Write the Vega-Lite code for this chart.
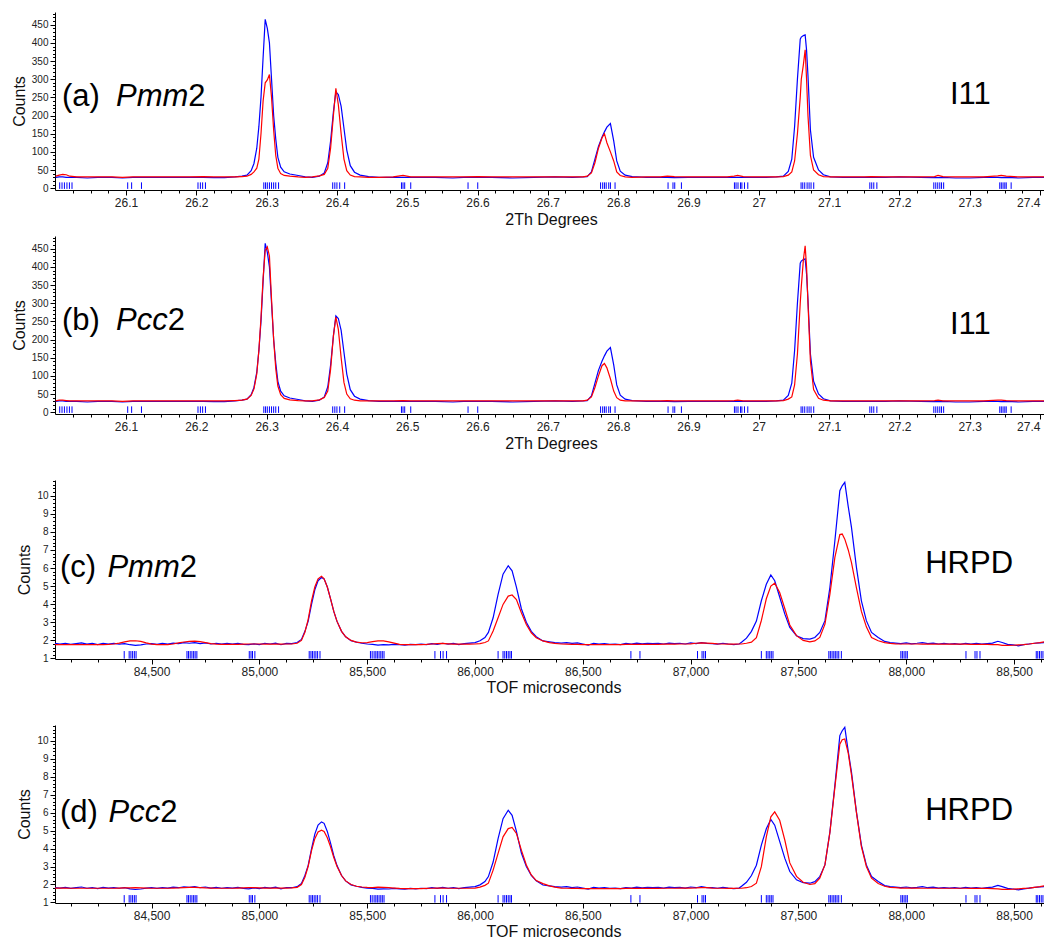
{
  "$schema": "https://vega.github.io/schema/vega-lite/v6.json",
  "background": "white",
  "padding": {"left": 11, "top": 12, "right": 0, "bottom": 0},
  "datasets": {
    "i11": [
      {"x": 26.000, "obs": 30, "pmm": 33, "pcc": 31},
      {"x": 26.005, "obs": 31, "pmm": 36, "pcc": 33},
      {"x": 26.010, "obs": 31, "pmm": 38, "pcc": 33},
      {"x": 26.015, "obs": 30, "pmm": 37, "pcc": 32},
      {"x": 26.020, "obs": 30, "pmm": 33, "pcc": 31},
      {"x": 26.030, "obs": 30, "pmm": 31, "pcc": 31},
      {"x": 26.045, "obs": 28, "pmm": 31, "pcc": 31},
      {"x": 26.060, "obs": 30, "pmm": 31, "pcc": 31},
      {"x": 26.080, "obs": 30, "pmm": 31, "pcc": 31},
      {"x": 26.095, "obs": 28, "pmm": 30, "pcc": 30},
      {"x": 26.110, "obs": 30, "pmm": 31, "pcc": 31},
      {"x": 26.130, "obs": 30, "pmm": 31, "pcc": 31},
      {"x": 26.150, "obs": 30, "pmm": 31, "pcc": 31},
      {"x": 26.170, "obs": 30, "pmm": 31, "pcc": 31},
      {"x": 26.190, "obs": 30, "pmm": 31, "pcc": 31},
      {"x": 26.210, "obs": 30, "pmm": 32, "pcc": 31},
      {"x": 26.225, "obs": 29, "pmm": 31, "pcc": 31},
      {"x": 26.240, "obs": 29, "pmm": 31, "pcc": 31},
      {"x": 26.255, "obs": 31, "pmm": 31, "pcc": 32},
      {"x": 26.265, "obs": 33, "pmm": 32, "pcc": 33},
      {"x": 26.272, "obs": 36, "pmm": 33, "pcc": 36},
      {"x": 26.278, "obs": 48, "pmm": 38, "pcc": 46},
      {"x": 26.282, "obs": 68, "pmm": 45, "pcc": 64},
      {"x": 26.286, "obs": 110, "pmm": 55, "pcc": 105},
      {"x": 26.289, "obs": 170, "pmm": 80, "pcc": 170},
      {"x": 26.292, "obs": 250, "pmm": 150, "pcc": 260},
      {"x": 26.295, "obs": 360, "pmm": 240, "pcc": 370},
      {"x": 26.298, "obs": 465, "pmm": 290, "pcc": 445},
      {"x": 26.301, "obs": 440, "pmm": 298, "pcc": 455},
      {"x": 26.304, "obs": 400, "pmm": 313, "pcc": 430},
      {"x": 26.307, "obs": 300, "pmm": 250, "pcc": 310},
      {"x": 26.310, "obs": 200, "pmm": 160, "pcc": 200},
      {"x": 26.313, "obs": 135, "pmm": 90, "pcc": 120},
      {"x": 26.316, "obs": 85, "pmm": 55, "pcc": 72},
      {"x": 26.320, "obs": 58, "pmm": 40, "pcc": 48},
      {"x": 26.325, "obs": 45, "pmm": 35, "pcc": 38},
      {"x": 26.333, "obs": 39, "pmm": 33, "pcc": 34},
      {"x": 26.345, "obs": 35, "pmm": 31, "pcc": 32},
      {"x": 26.355, "obs": 31, "pmm": 30, "pcc": 31},
      {"x": 26.365, "obs": 30, "pmm": 31, "pcc": 31},
      {"x": 26.375, "obs": 33, "pmm": 34, "pcc": 34},
      {"x": 26.382, "obs": 42, "pmm": 38, "pcc": 40},
      {"x": 26.387, "obs": 70, "pmm": 55, "pcc": 58},
      {"x": 26.391, "obs": 130, "pmm": 110, "pcc": 118},
      {"x": 26.395, "obs": 210, "pmm": 200, "pcc": 210},
      {"x": 26.3985, "obs": 265, "pmm": 275, "pcc": 262},
      {"x": 26.402, "obs": 258, "pmm": 230, "pcc": 228},
      {"x": 26.406, "obs": 225, "pmm": 150, "pcc": 150},
      {"x": 26.410, "obs": 165, "pmm": 80, "pcc": 82},
      {"x": 26.414, "obs": 105, "pmm": 48, "pcc": 50},
      {"x": 26.419, "obs": 62, "pmm": 36, "pcc": 37},
      {"x": 26.425, "obs": 44, "pmm": 32, "pcc": 33},
      {"x": 26.433, "obs": 36, "pmm": 31, "pcc": 31},
      {"x": 26.445, "obs": 32, "pmm": 30, "pcc": 31},
      {"x": 26.460, "obs": 30, "pmm": 30, "pcc": 31},
      {"x": 26.480, "obs": 30, "pmm": 31, "pcc": 31},
      {"x": 26.494, "obs": 30, "pmm": 35, "pcc": 32},
      {"x": 26.505, "obs": 30, "pmm": 31, "pcc": 31},
      {"x": 26.520, "obs": 30, "pmm": 31, "pcc": 31},
      {"x": 26.540, "obs": 30, "pmm": 31, "pcc": 31},
      {"x": 26.565, "obs": 28, "pmm": 31, "pcc": 31},
      {"x": 26.580, "obs": 30, "pmm": 31, "pcc": 31},
      {"x": 26.600, "obs": 30, "pmm": 32, "pcc": 31},
      {"x": 26.620, "obs": 30, "pmm": 31, "pcc": 31},
      {"x": 26.650, "obs": 28, "pmm": 31, "pcc": 31},
      {"x": 26.680, "obs": 30, "pmm": 31, "pcc": 31},
      {"x": 26.710, "obs": 31, "pmm": 31, "pcc": 31},
      {"x": 26.735, "obs": 30, "pmm": 31, "pcc": 31},
      {"x": 26.750, "obs": 31, "pmm": 31, "pcc": 31},
      {"x": 26.756, "obs": 32, "pmm": 33, "pcc": 33},
      {"x": 26.762, "obs": 45, "pmm": 42, "pcc": 42},
      {"x": 26.767, "obs": 80, "pmm": 70, "pcc": 68},
      {"x": 26.772, "obs": 115, "pmm": 110, "pcc": 100},
      {"x": 26.777, "obs": 140, "pmm": 138, "pcc": 128},
      {"x": 26.7805, "obs": 155, "pmm": 150, "pcc": 134},
      {"x": 26.784, "obs": 168, "pmm": 125, "pcc": 122},
      {"x": 26.789, "obs": 178, "pmm": 100, "pcc": 92},
      {"x": 26.7937, "obs": 130, "pmm": 75, "pcc": 58},
      {"x": 26.798, "obs": 75, "pmm": 45, "pcc": 40},
      {"x": 26.803, "obs": 47, "pmm": 35, "pcc": 33},
      {"x": 26.810, "obs": 36, "pmm": 31, "pcc": 31},
      {"x": 26.820, "obs": 32, "pmm": 30, "pcc": 31},
      {"x": 26.840, "obs": 30, "pmm": 31, "pcc": 31},
      {"x": 26.860, "obs": 30, "pmm": 31, "pcc": 31},
      {"x": 26.870, "obs": 30, "pmm": 33, "pcc": 32},
      {"x": 26.880, "obs": 29, "pmm": 32, "pcc": 31},
      {"x": 26.900, "obs": 30, "pmm": 31, "pcc": 31},
      {"x": 26.930, "obs": 30, "pmm": 31, "pcc": 31},
      {"x": 26.955, "obs": 30, "pmm": 31, "pcc": 31},
      {"x": 26.965, "obs": 30, "pmm": 33, "pcc": 32},
      {"x": 26.970, "obs": 30, "pmm": 35, "pcc": 33},
      {"x": 26.978, "obs": 30, "pmm": 32, "pcc": 31},
      {"x": 26.990, "obs": 30, "pmm": 31, "pcc": 31},
      {"x": 27.010, "obs": 30, "pmm": 31, "pcc": 31},
      {"x": 27.025, "obs": 31, "pmm": 31, "pcc": 31},
      {"x": 27.035, "obs": 33, "pmm": 32, "pcc": 32},
      {"x": 27.042, "obs": 46, "pmm": 36, "pcc": 36},
      {"x": 27.047, "obs": 80, "pmm": 45, "pcc": 42},
      {"x": 27.051, "obs": 170, "pmm": 75, "pcc": 75},
      {"x": 27.055, "obs": 300, "pmm": 150, "pcc": 160},
      {"x": 27.059, "obs": 410, "pmm": 250, "pcc": 300},
      {"x": 27.0605, "obs": 416, "pmm": 300, "pcc": 345},
      {"x": 27.0635, "obs": 420, "pmm": 340, "pcc": 420},
      {"x": 27.066, "obs": 422, "pmm": 381, "pcc": 458},
      {"x": 27.068, "obs": 380, "pmm": 300, "pcc": 400},
      {"x": 27.070, "obs": 310, "pmm": 200, "pcc": 300},
      {"x": 27.0735, "obs": 160, "pmm": 90, "pcc": 140},
      {"x": 27.078, "obs": 85, "pmm": 50, "pcc": 62},
      {"x": 27.085, "obs": 50, "pmm": 37, "pcc": 38},
      {"x": 27.092, "obs": 37, "pmm": 32, "pcc": 33},
      {"x": 27.102, "obs": 31, "pmm": 31, "pcc": 31},
      {"x": 27.120, "obs": 30, "pmm": 31, "pcc": 31},
      {"x": 27.150, "obs": 30, "pmm": 31, "pcc": 31},
      {"x": 27.160, "obs": 30, "pmm": 32, "pcc": 31},
      {"x": 27.180, "obs": 30, "pmm": 31, "pcc": 31},
      {"x": 27.200, "obs": 31, "pmm": 31, "pcc": 31},
      {"x": 27.230, "obs": 30, "pmm": 31, "pcc": 31},
      {"x": 27.250, "obs": 29, "pmm": 32, "pcc": 32},
      {"x": 27.255, "obs": 29, "pmm": 35, "pcc": 33},
      {"x": 27.262, "obs": 30, "pmm": 32, "pcc": 31},
      {"x": 27.280, "obs": 28, "pmm": 31, "pcc": 31},
      {"x": 27.300, "obs": 28, "pmm": 31, "pcc": 31},
      {"x": 27.320, "obs": 30, "pmm": 31, "pcc": 31},
      {"x": 27.340, "obs": 30, "pmm": 34, "pcc": 33},
      {"x": 27.345, "obs": 29, "pmm": 35, "pcc": 33},
      {"x": 27.352, "obs": 30, "pmm": 33, "pcc": 32},
      {"x": 27.370, "obs": 28, "pmm": 31, "pcc": 31},
      {"x": 27.390, "obs": 30, "pmm": 31, "pcc": 31},
      {"x": 27.410, "obs": 30, "pmm": 31, "pcc": 31}
    ],
    "i11refl": [
      {"x": 26.0057}, {"x": 26.009}, {"x": 26.0124}, {"x": 26.016}, {"x": 26.0195}, {"x": 26.0232},
      {"x": 26.1024}, {"x": 26.108}, {"x": 26.122},
      {"x": 26.2024}, {"x": 26.2058}, {"x": 26.209}, {"x": 26.213},
      {"x": 26.296}, {"x": 26.2985}, {"x": 26.301}, {"x": 26.304}, {"x": 26.307}, {"x": 26.31}, {"x": 26.313}, {"x": 26.317},
      {"x": 26.394}, {"x": 26.397}, {"x": 26.4}, {"x": 26.404}, {"x": 26.411},
      {"x": 26.4918}, {"x": 26.494}, {"x": 26.4964}, {"x": 26.505},
      {"x": 26.5865}, {"x": 26.6003},
      {"x": 26.775}, {"x": 26.778}, {"x": 26.7805}, {"x": 26.783}, {"x": 26.7866}, {"x": 26.789}, {"x": 26.7956},
      {"x": 26.871}, {"x": 26.878}, {"x": 26.8805}, {"x": 26.89},
      {"x": 26.9654}, {"x": 26.9677}, {"x": 26.9705}, {"x": 26.974}, {"x": 26.976}, {"x": 26.9797}, {"x": 26.9844},
      {"x": 27.0602}, {"x": 27.0626}, {"x": 27.0654}, {"x": 27.0688}, {"x": 27.0716}, {"x": 27.0744}, {"x": 27.0782},
      {"x": 27.158}, {"x": 27.1607}, {"x": 27.1636}, {"x": 27.168},
      {"x": 27.249}, {"x": 27.2518}, {"x": 27.2546}, {"x": 27.2575}, {"x": 27.26}, {"x": 27.263},
      {"x": 27.3428}, {"x": 27.345}, {"x": 27.3475}, {"x": 27.35}, {"x": 27.352}, {"x": 27.359}
    ],
    "hrpd": [
      {"x": 84052, "obs": 1.83, "pmm": 1.76, "pcc": 1.80},
      {"x": 84075, "obs": 1.80, "pmm": 1.76, "pcc": 1.80},
      {"x": 84100, "obs": 1.84, "pmm": 1.76, "pcc": 1.80},
      {"x": 84125, "obs": 1.78, "pmm": 1.76, "pcc": 1.79},
      {"x": 84150, "obs": 1.82, "pmm": 1.76, "pcc": 1.79},
      {"x": 84175, "obs": 1.86, "pmm": 1.76, "pcc": 1.79},
      {"x": 84200, "obs": 1.79, "pmm": 1.76, "pcc": 1.79},
      {"x": 84225, "obs": 1.83, "pmm": 1.76, "pcc": 1.79},
      {"x": 84250, "obs": 1.77, "pmm": 1.76, "pcc": 1.79},
      {"x": 84275, "obs": 1.84, "pmm": 1.77, "pcc": 1.79},
      {"x": 84300, "obs": 1.80, "pmm": 1.78, "pcc": 1.79},
      {"x": 84325, "obs": 1.83, "pmm": 1.80, "pcc": 1.79},
      {"x": 84350, "obs": 1.79, "pmm": 1.85, "pcc": 1.80},
      {"x": 84375, "obs": 1.82, "pmm": 1.92, "pcc": 1.81},
      {"x": 84400, "obs": 1.76, "pmm": 1.97, "pcc": 1.81},
      {"x": 84425, "obs": 1.72, "pmm": 1.98, "pcc": 1.82},
      {"x": 84450, "obs": 1.75, "pmm": 1.94, "pcc": 1.81},
      {"x": 84475, "obs": 1.80, "pmm": 1.86, "pcc": 1.80},
      {"x": 84500, "obs": 1.82, "pmm": 1.79, "pcc": 1.79},
      {"x": 84525, "obs": 1.78, "pmm": 1.77, "pcc": 1.79},
      {"x": 84550, "obs": 1.83, "pmm": 1.76, "pcc": 1.79},
      {"x": 84575, "obs": 1.80, "pmm": 1.77, "pcc": 1.79},
      {"x": 84600, "obs": 1.85, "pmm": 1.80, "pcc": 1.80},
      {"x": 84625, "obs": 1.82, "pmm": 1.86, "pcc": 1.81},
      {"x": 84650, "obs": 1.87, "pmm": 1.91, "pcc": 1.83},
      {"x": 84675, "obs": 1.84, "pmm": 1.95, "pcc": 1.84},
      {"x": 84700, "obs": 1.88, "pmm": 1.96, "pcc": 1.84},
      {"x": 84725, "obs": 1.82, "pmm": 1.93, "pcc": 1.83},
      {"x": 84750, "obs": 1.86, "pmm": 1.88, "pcc": 1.81},
      {"x": 84775, "obs": 1.80, "pmm": 1.82, "pcc": 1.80},
      {"x": 84800, "obs": 1.84, "pmm": 1.79, "pcc": 1.79},
      {"x": 84825, "obs": 1.79, "pmm": 1.78, "pcc": 1.79},
      {"x": 84850, "obs": 1.83, "pmm": 1.78, "pcc": 1.79},
      {"x": 84875, "obs": 1.80, "pmm": 1.78, "pcc": 1.79},
      {"x": 84900, "obs": 1.84, "pmm": 1.78, "pcc": 1.80},
      {"x": 84925, "obs": 1.78, "pmm": 1.79, "pcc": 1.81},
      {"x": 84950, "obs": 1.76, "pmm": 1.80, "pcc": 1.82},
      {"x": 84975, "obs": 1.81, "pmm": 1.80, "pcc": 1.82},
      {"x": 85000, "obs": 1.77, "pmm": 1.80, "pcc": 1.81},
      {"x": 85025, "obs": 1.84, "pmm": 1.79, "pcc": 1.80},
      {"x": 85050, "obs": 1.80, "pmm": 1.79, "pcc": 1.80},
      {"x": 85075, "obs": 1.85, "pmm": 1.79, "pcc": 1.80},
      {"x": 85100, "obs": 1.76, "pmm": 1.79, "pcc": 1.80},
      {"x": 85125, "obs": 1.83, "pmm": 1.80, "pcc": 1.80},
      {"x": 85150, "obs": 1.82, "pmm": 1.80, "pcc": 1.81},
      {"x": 85175, "obs": 1.88, "pmm": 1.84, "pcc": 1.84},
      {"x": 85195, "obs": 2.05, "pmm": 2.00, "pcc": 2.00},
      {"x": 85211, "obs": 2.50, "pmm": 2.45, "pcc": 2.40},
      {"x": 85226, "obs": 3.05, "pmm": 3.15, "pcc": 3.00},
      {"x": 85242, "obs": 4.00, "pmm": 4.20, "pcc": 3.90},
      {"x": 85257, "obs": 4.80, "pmm": 4.95, "pcc": 4.55},
      {"x": 85272, "obs": 5.30, "pmm": 5.40, "pcc": 4.92},
      {"x": 85288, "obs": 5.48, "pmm": 5.55, "pcc": 5.02},
      {"x": 85300, "obs": 5.40, "pmm": 5.40, "pcc": 4.95},
      {"x": 85315, "obs": 4.95, "pmm": 4.95, "pcc": 4.60},
      {"x": 85330, "obs": 4.30, "pmm": 4.30, "pcc": 4.10},
      {"x": 85345, "obs": 3.60, "pmm": 3.60, "pcc": 3.50},
      {"x": 85360, "obs": 3.05, "pmm": 3.05, "pcc": 3.00},
      {"x": 85381, "obs": 2.50, "pmm": 2.50, "pcc": 2.50},
      {"x": 85400, "obs": 2.20, "pmm": 2.20, "pcc": 2.20},
      {"x": 85425, "obs": 1.98, "pmm": 2.00, "pcc": 2.00},
      {"x": 85450, "obs": 1.90, "pmm": 1.90, "pcc": 1.90},
      {"x": 85475, "obs": 1.84, "pmm": 1.87, "pcc": 1.86},
      {"x": 85500, "obs": 1.80, "pmm": 1.88, "pcc": 1.84},
      {"x": 85525, "obs": 1.78, "pmm": 1.93, "pcc": 1.83},
      {"x": 85550, "obs": 1.74, "pmm": 1.97, "pcc": 1.85},
      {"x": 85575, "obs": 1.76, "pmm": 1.97, "pcc": 1.84},
      {"x": 85600, "obs": 1.75, "pmm": 1.92, "pcc": 1.82},
      {"x": 85625, "obs": 1.78, "pmm": 1.85, "pcc": 1.80},
      {"x": 85650, "obs": 1.76, "pmm": 1.78, "pcc": 1.78},
      {"x": 85675, "obs": 1.74, "pmm": 1.76, "pcc": 1.77},
      {"x": 85700, "obs": 1.78, "pmm": 1.76, "pcc": 1.77},
      {"x": 85725, "obs": 1.76, "pmm": 1.77, "pcc": 1.77},
      {"x": 85750, "obs": 1.79, "pmm": 1.77, "pcc": 1.77},
      {"x": 85775, "obs": 1.77, "pmm": 1.78, "pcc": 1.78},
      {"x": 85800, "obs": 1.82, "pmm": 1.80, "pcc": 1.79},
      {"x": 85825, "obs": 1.78, "pmm": 1.82, "pcc": 1.80},
      {"x": 85850, "obs": 1.84, "pmm": 1.83, "pcc": 1.80},
      {"x": 85875, "obs": 1.79, "pmm": 1.81, "pcc": 1.79},
      {"x": 85900, "obs": 1.83, "pmm": 1.79, "pcc": 1.79},
      {"x": 85925, "obs": 1.77, "pmm": 1.79, "pcc": 1.79},
      {"x": 85950, "obs": 1.82, "pmm": 1.79, "pcc": 1.79},
      {"x": 85975, "obs": 1.85, "pmm": 1.79, "pcc": 1.79},
      {"x": 86000, "obs": 1.88, "pmm": 1.80, "pcc": 1.80},
      {"x": 86023, "obs": 1.98, "pmm": 1.82, "pcc": 1.85},
      {"x": 86046, "obs": 2.16, "pmm": 1.88, "pcc": 1.95},
      {"x": 86062, "obs": 2.44, "pmm": 1.97, "pcc": 2.07},
      {"x": 86084, "obs": 3.25, "pmm": 2.52, "pcc": 2.80},
      {"x": 86107, "obs": 4.55, "pmm": 3.25, "pcc": 3.73},
      {"x": 86130, "obs": 5.66, "pmm": 3.99, "pcc": 4.65},
      {"x": 86154, "obs": 6.13, "pmm": 4.45, "pcc": 5.11},
      {"x": 86172, "obs": 5.85, "pmm": 4.51, "pcc": 5.17},
      {"x": 86192, "obs": 4.95, "pmm": 4.26, "pcc": 4.84},
      {"x": 86215, "obs": 3.75, "pmm": 3.53, "pcc": 3.91},
      {"x": 86238, "obs": 3.00, "pmm": 2.88, "pcc": 3.08},
      {"x": 86261, "obs": 2.50, "pmm": 2.42, "pcc": 2.53},
      {"x": 86284, "obs": 2.20, "pmm": 2.15, "pcc": 2.22},
      {"x": 86315, "obs": 1.97, "pmm": 1.97, "pcc": 2.05},
      {"x": 86345, "obs": 1.92, "pmm": 1.88, "pcc": 1.92},
      {"x": 86370, "obs": 1.88, "pmm": 1.83, "pcc": 1.85},
      {"x": 86400, "obs": 1.85, "pmm": 1.80, "pcc": 1.80},
      {"x": 86425, "obs": 1.88, "pmm": 1.79, "pcc": 1.79},
      {"x": 86450, "obs": 1.83, "pmm": 1.78, "pcc": 1.78},
      {"x": 86475, "obs": 1.86, "pmm": 1.78, "pcc": 1.78},
      {"x": 86500, "obs": 1.80, "pmm": 1.77, "pcc": 1.77},
      {"x": 86525, "obs": 1.74, "pmm": 1.77, "pcc": 1.77},
      {"x": 86550, "obs": 1.84, "pmm": 1.77, "pcc": 1.77},
      {"x": 86575, "obs": 1.80, "pmm": 1.77, "pcc": 1.77},
      {"x": 86600, "obs": 1.82, "pmm": 1.77, "pcc": 1.77},
      {"x": 86625, "obs": 1.78, "pmm": 1.77, "pcc": 1.77},
      {"x": 86650, "obs": 1.80, "pmm": 1.77, "pcc": 1.77},
      {"x": 86675, "obs": 1.77, "pmm": 1.77, "pcc": 1.77},
      {"x": 86700, "obs": 1.83, "pmm": 1.78, "pcc": 1.78},
      {"x": 86725, "obs": 1.80, "pmm": 1.78, "pcc": 1.78},
      {"x": 86750, "obs": 1.85, "pmm": 1.78, "pcc": 1.78},
      {"x": 86775, "obs": 1.81, "pmm": 1.78, "pcc": 1.78},
      {"x": 86800, "obs": 1.84, "pmm": 1.78, "pcc": 1.78},
      {"x": 86825, "obs": 1.82, "pmm": 1.78, "pcc": 1.78},
      {"x": 86850, "obs": 1.84, "pmm": 1.78, "pcc": 1.78},
      {"x": 86875, "obs": 1.80, "pmm": 1.79, "pcc": 1.79},
      {"x": 86900, "obs": 1.85, "pmm": 1.79, "pcc": 1.79},
      {"x": 86925, "obs": 1.82, "pmm": 1.79, "pcc": 1.79},
      {"x": 86950, "obs": 1.84, "pmm": 1.80, "pcc": 1.80},
      {"x": 86975, "obs": 1.80, "pmm": 1.80, "pcc": 1.80},
      {"x": 87000, "obs": 1.86, "pmm": 1.81, "pcc": 1.80},
      {"x": 87025, "obs": 1.82, "pmm": 1.84, "pcc": 1.81},
      {"x": 87050, "obs": 1.88, "pmm": 1.86, "pcc": 1.83},
      {"x": 87075, "obs": 1.83, "pmm": 1.85, "pcc": 1.82},
      {"x": 87100, "obs": 1.82, "pmm": 1.83, "pcc": 1.80},
      {"x": 87125, "obs": 1.79, "pmm": 1.81, "pcc": 1.79},
      {"x": 87150, "obs": 1.84, "pmm": 1.80, "pcc": 1.79},
      {"x": 87175, "obs": 1.80, "pmm": 1.79, "pcc": 1.78},
      {"x": 87200, "obs": 1.77, "pmm": 1.79, "pcc": 1.78},
      {"x": 87225, "obs": 1.80, "pmm": 1.80, "pcc": 1.79},
      {"x": 87236, "obs": 1.90, "pmm": 1.80, "pcc": 1.79},
      {"x": 87259, "obs": 2.12, "pmm": 1.84, "pcc": 1.82},
      {"x": 87282, "obs": 2.50, "pmm": 1.90, "pcc": 1.89},
      {"x": 87305, "obs": 3.07, "pmm": 2.15, "pcc": 2.07},
      {"x": 87328, "obs": 4.19, "pmm": 3.10, "pcc": 2.99},
      {"x": 87351, "obs": 5.10, "pmm": 4.30, "pcc": 4.65},
      {"x": 87372, "obs": 5.62, "pmm": 5.00, "pcc": 5.76},
      {"x": 87390, "obs": 5.30, "pmm": 5.16, "pcc": 6.04},
      {"x": 87413, "obs": 4.40, "pmm": 4.65, "pcc": 5.57},
      {"x": 87437, "obs": 3.45, "pmm": 3.75, "pcc": 4.46},
      {"x": 87460, "obs": 2.72, "pmm": 2.85, "pcc": 3.20},
      {"x": 87491, "obs": 2.26, "pmm": 2.26, "pcc": 2.45},
      {"x": 87522, "obs": 2.10, "pmm": 2.00, "pcc": 2.12},
      {"x": 87553, "obs": 2.07, "pmm": 1.92, "pcc": 2.00},
      {"x": 87576, "obs": 2.16, "pmm": 1.97, "pcc": 2.05},
      {"x": 87599, "obs": 2.44, "pmm": 2.16, "pcc": 2.35},
      {"x": 87623, "obs": 3.09, "pmm": 2.90, "pcc": 3.10},
      {"x": 87646, "obs": 4.93, "pmm": 4.56, "pcc": 4.90},
      {"x": 87669, "obs": 7.51, "pmm": 6.59, "pcc": 7.40},
      {"x": 87692, "obs": 10.28, "pmm": 7.85, "pcc": 9.80},
      {"x": 87703, "obs": 10.55, "pmm": 7.88, "pcc": 10.05},
      {"x": 87715, "obs": 10.74, "pmm": 7.60, "pcc": 10.09},
      {"x": 87731, "obs": 9.40, "pmm": 7.00, "pcc": 9.30},
      {"x": 87746, "obs": 8.25, "pmm": 6.30, "pcc": 8.10},
      {"x": 87769, "obs": 6.04, "pmm": 4.90, "pcc": 6.00},
      {"x": 87792, "obs": 4.19, "pmm": 3.60, "pcc": 4.10},
      {"x": 87815, "obs": 3.09, "pmm": 2.75, "pcc": 3.00},
      {"x": 87839, "obs": 2.44, "pmm": 2.16, "pcc": 2.35},
      {"x": 87870, "obs": 2.16, "pmm": 1.98, "pcc": 2.05},
      {"x": 87900, "obs": 1.94, "pmm": 1.88, "pcc": 1.90},
      {"x": 87925, "obs": 1.88, "pmm": 1.83, "pcc": 1.84},
      {"x": 87950, "obs": 1.85, "pmm": 1.81, "pcc": 1.82},
      {"x": 87975, "obs": 1.82, "pmm": 1.80, "pcc": 1.80},
      {"x": 88000, "obs": 1.86, "pmm": 1.80, "pcc": 1.80},
      {"x": 88025, "obs": 1.81, "pmm": 1.80, "pcc": 1.80},
      {"x": 88050, "obs": 1.84, "pmm": 1.80, "pcc": 1.80},
      {"x": 88075, "obs": 1.88, "pmm": 1.79, "pcc": 1.79},
      {"x": 88100, "obs": 1.82, "pmm": 1.79, "pcc": 1.79},
      {"x": 88125, "obs": 1.85, "pmm": 1.79, "pcc": 1.79},
      {"x": 88150, "obs": 1.80, "pmm": 1.79, "pcc": 1.79},
      {"x": 88175, "obs": 1.83, "pmm": 1.79, "pcc": 1.79},
      {"x": 88200, "obs": 1.80, "pmm": 1.79, "pcc": 1.79},
      {"x": 88225, "obs": 1.82, "pmm": 1.79, "pcc": 1.79},
      {"x": 88250, "obs": 1.78, "pmm": 1.79, "pcc": 1.79},
      {"x": 88275, "obs": 1.84, "pmm": 1.79, "pcc": 1.79},
      {"x": 88300, "obs": 1.80, "pmm": 1.78, "pcc": 1.78},
      {"x": 88325, "obs": 1.83, "pmm": 1.78, "pcc": 1.78},
      {"x": 88350, "obs": 1.79, "pmm": 1.78, "pcc": 1.78},
      {"x": 88375, "obs": 1.82, "pmm": 1.78, "pcc": 1.78},
      {"x": 88400, "obs": 1.85, "pmm": 1.77, "pcc": 1.77},
      {"x": 88425, "obs": 1.95, "pmm": 1.76, "pcc": 1.76},
      {"x": 88445, "obs": 1.88, "pmm": 1.72, "pcc": 1.73},
      {"x": 88470, "obs": 1.78, "pmm": 1.72, "pcc": 1.73},
      {"x": 88495, "obs": 1.75, "pmm": 1.73, "pcc": 1.74},
      {"x": 88520, "obs": 1.70, "pmm": 1.75, "pcc": 1.76},
      {"x": 88545, "obs": 1.76, "pmm": 1.77, "pcc": 1.78},
      {"x": 88570, "obs": 1.80, "pmm": 1.80, "pcc": 1.80},
      {"x": 88595, "obs": 1.84, "pmm": 1.84, "pcc": 1.84},
      {"x": 88620, "obs": 1.86, "pmm": 1.88, "pcc": 1.88},
      {"x": 88645, "obs": 1.88, "pmm": 1.93, "pcc": 1.93},
      {"x": 88676, "obs": 1.95, "pmm": 1.98, "pcc": 1.98}
    ],
    "hrpdrefl": [
      {"x": 84373}, {"x": 84396}, {"x": 84404}, {"x": 84412}, {"x": 84420}, {"x": 84428},
      {"x": 84664}, {"x": 84671}, {"x": 84679}, {"x": 84687}, {"x": 84695}, {"x": 84702}, {"x": 84710},
      {"x": 84953}, {"x": 84961}, {"x": 84968}, {"x": 84979},
      {"x": 85231}, {"x": 85239}, {"x": 85246}, {"x": 85254}, {"x": 85262}, {"x": 85270}, {"x": 85281},
      {"x": 85515}, {"x": 85523}, {"x": 85532}, {"x": 85540}, {"x": 85547}, {"x": 85555}, {"x": 85563}, {"x": 85570}, {"x": 85578},
      {"x": 85814}, {"x": 85840}, {"x": 85852}, {"x": 85868},
      {"x": 86107}, {"x": 86130}, {"x": 86138}, {"x": 86146}, {"x": 86154}, {"x": 86162}, {"x": 86169},
      {"x": 86723}, {"x": 86765},
      {"x": 87032}, {"x": 87053}, {"x": 87061}, {"x": 87069},
      {"x": 87328}, {"x": 87351}, {"x": 87359}, {"x": 87367}, {"x": 87374}, {"x": 87382},
      {"x": 87641}, {"x": 87648}, {"x": 87656}, {"x": 87664}, {"x": 87671}, {"x": 87679}, {"x": 87687}, {"x": 87699},
      {"x": 87975}, {"x": 87982}, {"x": 87990}, {"x": 87998}, {"x": 88005},
      {"x": 88277}, {"x": 88319}, {"x": 88328}, {"x": 88342},
      {"x": 88603}, {"x": 88610}, {"x": 88618}, {"x": 88626}, {"x": 88634}, {"x": 88642}, {"x": 88654}, {"x": 88665}
    ]
  },
  "columns": 1,
  "align": "none",
  "spacing": 29,
  "concat": [
    {
      "spacing": 9,
      "vconcat": [
        {
          "width": 992, "height": 178,
          "resolve": {"scale": {"x": "independent", "y": "independent"}},
          "layer": [
            {
              "layer": [
                {
                  "data": {"name": "i11"},
                  "mark": {"type": "line", "color": "#0000ff", "strokeWidth": 1.2, "clip": true},
                  "encoding": {
                    "x": {"field": "x", "type": "quantitative", "title": "2Th Degrees", "scale": {"domain": [25.999, 27.41], "nice": false, "zero": false},
                      "axis": {"title": "2Th Degrees", "values": [26.1,26.2,26.3,26.4,26.5,26.6,26.7,26.8,26.9,27,27.1,27.2,27.3,27.4], "labelExpr": "format(datum.value, '.1~f')", "labelOverlap": false, "labelFlush": 10, "labelFontSize": 12, "titleFontSize": 16, "tickSize": 5, "labelPadding": 2, "titlePadding": 3, "labelFont": "Liberation Sans", "titleFont": "Liberation Sans", "titleFontWeight": "normal", "labelColor": "#222", "titleColor": "#111", "domainColor": "#000", "tickColor": "#000", "grid": false}},
                    "y": {"field": "obs", "type": "quantitative", "title": "Counts", "scale": {"domain": [-5, 485], "nice": false, "zero": false},
                      "axis": {"title": "Counts", "values": [0,100,200,300,400], "labelExpr": "format(datum.value, 'd')", "labelOverlap": false, "labelFlush": false, "labelFontSize": 10, "titleFontSize": 16, "tickSize": 5, "labelPadding": 2, "titlePadding": 4, "labelFont": "Liberation Sans", "titleFont": "Liberation Sans", "titleFontWeight": "normal", "labelColor": "#222", "titleColor": "#111", "domainColor": "#000", "tickColor": "#000", "grid": false}}
                  }
                },
                {
                  "data": {"name": "i11"},
                  "mark": {"type": "line", "color": "#ff0000", "strokeWidth": 1.2, "clip": true},
                  "encoding": {"x": {"field": "x", "type": "quantitative", "title": "2Th Degrees"}, "y": {"field": "pmm", "type": "quantitative", "title": "Counts"}}
                }
              ]
            },
            {
              "data": {"name": "i11refl"},
              "mark": {"type": "point", "opacity": 0},
              "encoding": {
                "x": {"field": "x", "type": "quantitative", "scale": {"domain": [25.999, 27.41], "nice": false, "zero": false},
                  "axis": {"orient": "bottom", "title": null, "labels": false, "domain": false, "grid": false, "tickSize": 3, "tickColor": "#000",
                    "values": [26.025,26.05,26.075,26.125,26.15,26.175,26.225,26.25,26.275,26.325,26.35,26.375,26.425,26.45,26.475,26.525,26.55,26.575,26.625,26.65,26.675,26.725,26.75,26.775,26.825,26.85,26.875,26.925,26.95,26.975,27.025,27.05,27.075,27.125,27.15,27.175,27.225,27.25,27.275,27.325,27.35,27.375]}},
                "y": {"datum": 100, "type": "quantitative", "scale": {"domain": [-5, 485], "nice": false, "zero": false},
                  "axis": {"orient": "left", "title": null, "labels": false, "domain": false, "grid": false, "tickSize": 2.5, "tickColor": "#000",
                    "values": [10,20,30,40,60,70,80,90,110,120,130,140,160,170,180,190,210,220,230,240,260,270,280,290,310,320,330,340,360,370,380,390,410,420,430,440,460,470,480]}}
              }
            },
            {
              "data": {"name": "i11refl"},
              "mark": {"type": "point", "opacity": 0},
              "encoding": {
                "y": {"datum": 100, "type": "quantitative", "scale": {"domain": [-5, 485], "nice": false, "zero": false},
                  "axis": {"orient": "left", "title": null, "domain": false, "grid": false, "tickSize": 5, "tickColor": "#000", "values": [50,150,250,350,450], "labelExpr": "format(datum.value, 'd')", "labelOverlap": false, "labelFlush": false, "labelFontSize": 10, "labelPadding": 2, "labelFont": "Liberation Sans", "labelColor": "#222"}}
              }
            },
            {
              "layer": [
                {
                  "data": {"name": "i11refl"},
                  "mark": {"type": "rule", "color": "#0000ff", "strokeWidth": 1},
                  "encoding": {"x": {"field": "x", "type": "quantitative", "scale": {"domain": [25.999, 27.41], "nice": false, "zero": false}, "axis": null}, "y": {"datum": -2, "type": "quantitative", "scale": {"domain": [-5, 485], "nice": false, "zero": false}, "axis": null}, "y2": {"datum": 16}}
                },
                {
                  "data": {"values": [{"t": "(a)"}]},
                  "mark": {"type": "text", "font": "Liberation Sans", "fontSize": 31, "align": "left", "baseline": "alphabetic", "color": "#000"},
                  "encoding": {"x": {"datum": 26.009, "axis": null}, "y": {"datum": 226, "axis": null}, "text": {"field": "t"}}
                },
                {
                  "data": {"values": [{"t": "Pmm"}]},
                  "mark": {"type": "text", "font": "Liberation Sans", "fontSize": 31, "fontStyle": "italic", "align": "left", "baseline": "alphabetic", "color": "#000"},
                  "encoding": {"x": {"datum": 26.0858, "axis": null}, "y": {"datum": 226, "axis": null}, "text": {"field": "t"}}
                },
                {
                  "data": {"values": [{"t": "2"}]},
                  "mark": {"type": "text", "font": "Liberation Sans", "fontSize": 31, "align": "left", "baseline": "alphabetic", "color": "#000"},
                  "encoding": {"x": {"datum": 26.1886, "axis": null}, "y": {"datum": 226, "axis": null}, "text": {"field": "t"}}
                },
                {
                  "data": {"values": [{"t": "I11"}]},
                  "mark": {"type": "text", "font": "Liberation Sans", "fontSize": 31, "align": "left", "baseline": "alphabetic", "color": "#000"},
                  "encoding": {"x": {"datum": 27.272, "axis": null}, "y": {"datum": 232, "axis": null}, "text": {"field": "t"}}
                }
              ]
            }
          ]
        },
        {
          "width": 992, "height": 178,
          "resolve": {"scale": {"x": "independent", "y": "independent"}},
          "layer": [
            {
              "layer": [
                {
                  "data": {"name": "i11"},
                  "mark": {"type": "line", "color": "#0000ff", "strokeWidth": 1.2, "clip": true},
                  "encoding": {
                    "x": {"field": "x", "type": "quantitative", "title": "2Th Degrees", "scale": {"domain": [25.999, 27.41], "nice": false, "zero": false},
                      "axis": {"title": "2Th Degrees", "values": [26.1,26.2,26.3,26.4,26.5,26.6,26.7,26.8,26.9,27,27.1,27.2,27.3,27.4], "labelExpr": "format(datum.value, '.1~f')", "labelOverlap": false, "labelFlush": 10, "labelFontSize": 12, "titleFontSize": 16, "tickSize": 5, "labelPadding": 2, "titlePadding": 3, "labelFont": "Liberation Sans", "titleFont": "Liberation Sans", "titleFontWeight": "normal", "labelColor": "#222", "titleColor": "#111", "domainColor": "#000", "tickColor": "#000", "grid": false}},
                    "y": {"field": "obs", "type": "quantitative", "title": "Counts", "scale": {"domain": [-5, 485], "nice": false, "zero": false},
                      "axis": {"title": "Counts", "values": [0,100,200,300,400], "labelExpr": "format(datum.value, 'd')", "labelOverlap": false, "labelFlush": false, "labelFontSize": 10, "titleFontSize": 16, "tickSize": 5, "labelPadding": 2, "titlePadding": 4, "labelFont": "Liberation Sans", "titleFont": "Liberation Sans", "titleFontWeight": "normal", "labelColor": "#222", "titleColor": "#111", "domainColor": "#000", "tickColor": "#000", "grid": false}}
                  }
                },
                {
                  "data": {"name": "i11"},
                  "mark": {"type": "line", "color": "#ff0000", "strokeWidth": 1.2, "clip": true},
                  "encoding": {"x": {"field": "x", "type": "quantitative", "title": "2Th Degrees"}, "y": {"field": "pcc", "type": "quantitative", "title": "Counts"}}
                }
              ]
            },
            {
              "data": {"name": "i11refl"},
              "mark": {"type": "point", "opacity": 0},
              "encoding": {
                "x": {"field": "x", "type": "quantitative", "scale": {"domain": [25.999, 27.41], "nice": false, "zero": false},
                  "axis": {"orient": "bottom", "title": null, "labels": false, "domain": false, "grid": false, "tickSize": 3, "tickColor": "#000",
                    "values": [26.025,26.05,26.075,26.125,26.15,26.175,26.225,26.25,26.275,26.325,26.35,26.375,26.425,26.45,26.475,26.525,26.55,26.575,26.625,26.65,26.675,26.725,26.75,26.775,26.825,26.85,26.875,26.925,26.95,26.975,27.025,27.05,27.075,27.125,27.15,27.175,27.225,27.25,27.275,27.325,27.35,27.375]}},
                "y": {"datum": 100, "type": "quantitative", "scale": {"domain": [-5, 485], "nice": false, "zero": false},
                  "axis": {"orient": "left", "title": null, "labels": false, "domain": false, "grid": false, "tickSize": 2.5, "tickColor": "#000",
                    "values": [10,20,30,40,60,70,80,90,110,120,130,140,160,170,180,190,210,220,230,240,260,270,280,290,310,320,330,340,360,370,380,390,410,420,430,440,460,470,480]}}
              }
            },
            {
              "data": {"name": "i11refl"},
              "mark": {"type": "point", "opacity": 0},
              "encoding": {
                "y": {"datum": 100, "type": "quantitative", "scale": {"domain": [-5, 485], "nice": false, "zero": false},
                  "axis": {"orient": "left", "title": null, "domain": false, "grid": false, "tickSize": 5, "tickColor": "#000", "values": [50,150,250,350,450], "labelExpr": "format(datum.value, 'd')", "labelOverlap": false, "labelFlush": false, "labelFontSize": 10, "labelPadding": 2, "labelFont": "Liberation Sans", "labelColor": "#222"}}
              }
            },
            {
              "layer": [
                {
                  "data": {"name": "i11refl"},
                  "mark": {"type": "rule", "color": "#0000ff", "strokeWidth": 1},
                  "encoding": {"x": {"field": "x", "type": "quantitative", "scale": {"domain": [25.999, 27.41], "nice": false, "zero": false}, "axis": null}, "y": {"datum": -2, "type": "quantitative", "scale": {"domain": [-5, 485], "nice": false, "zero": false}, "axis": null}, "y2": {"datum": 16}}
                },
                {
                  "data": {"values": [{"t": "(b)"}]},
                  "mark": {"type": "text", "font": "Liberation Sans", "fontSize": 31, "align": "left", "baseline": "alphabetic", "color": "#000"},
                  "encoding": {"x": {"datum": 26.009, "axis": null}, "y": {"datum": 227, "axis": null}, "text": {"field": "t"}}
                },
                {
                  "data": {"values": [{"t": "Pcc"}]},
                  "mark": {"type": "text", "font": "Liberation Sans", "fontSize": 31, "fontStyle": "italic", "align": "left", "baseline": "alphabetic", "color": "#000"},
                  "encoding": {"x": {"datum": 26.0858, "axis": null}, "y": {"datum": 227, "axis": null}, "text": {"field": "t"}}
                },
                {
                  "data": {"values": [{"t": "2"}]},
                  "mark": {"type": "text", "font": "Liberation Sans", "fontSize": 31, "align": "left", "baseline": "alphabetic", "color": "#000"},
                  "encoding": {"x": {"datum": 26.1593, "axis": null}, "y": {"datum": 227, "axis": null}, "text": {"field": "t"}}
                },
                {
                  "data": {"values": [{"t": "I11"}]},
                  "mark": {"type": "text", "font": "Liberation Sans", "fontSize": 31, "align": "left", "baseline": "alphabetic", "color": "#000"},
                  "encoding": {"x": {"datum": 27.272, "axis": null}, "y": {"datum": 214, "axis": null}, "text": {"field": "t"}}
                }
              ]
            }
          ]
        }
      ]
    },
    {
      "spacing": 30,
      "vconcat": [
        {
          "width": 997, "height": 179,
          "resolve": {"scale": {"x": "independent", "y": "independent"}},
          "layer": [
            {
              "layer": [
                {
                  "data": {"name": "hrpd"},
                  "mark": {"type": "line", "color": "#0000ff", "strokeWidth": 1.2, "clip": true},
                  "encoding": {
                    "x": {"field": "x", "type": "quantitative", "title": "TOF microseconds", "scale": {"domain": [84052, 88676], "nice": false, "zero": false},
                      "axis": {"title": "TOF microseconds", "values": [84500,85000,85500,86000,86500,87000,87500,88000,88500], "labelExpr": "format(datum.value, ',')", "labelOverlap": false, "labelFlush": false, "labelFontSize": 12, "titleFontSize": 16, "tickSize": 5, "labelPadding": 2, "titlePadding": 2, "labelFont": "Liberation Sans", "titleFont": "Liberation Sans", "titleFontWeight": "normal", "labelColor": "#222", "titleColor": "#111", "domainColor": "#000", "tickColor": "#000", "grid": false}},
                    "y": {"field": "obs", "type": "quantitative", "title": "Counts", "scale": {"domain": [0.97, 10.87], "nice": false, "zero": false},
                      "axis": {"title": null, "values": [1,3,5,7,9], "labelExpr": "format(datum.value, 'd')", "labelOverlap": false, "labelFlush": false, "labelFontSize": 10, "tickSize": 5, "labelPadding": 2, "labelFont": "Liberation Sans", "labelColor": "#222", "domainColor": "#000", "tickColor": "#000", "grid": false}}
                  }
                },
                {
                  "data": {"name": "hrpd"},
                  "mark": {"type": "line", "color": "#ff0000", "strokeWidth": 1.2, "clip": true},
                  "encoding": {"x": {"field": "x", "type": "quantitative", "title": "TOF microseconds"}, "y": {"field": "pmm", "type": "quantitative"}}
                }
              ]
            },
            {
              "data": {"name": "hrpdrefl"},
              "mark": {"type": "point", "opacity": 0},
              "encoding": {
                "x": {"field": "x", "type": "quantitative", "scale": {"domain": [84052, 88676], "nice": false, "zero": false},
                  "axis": {"orient": "bottom", "title": null, "labels": false, "domain": false, "grid": false, "tickSize": 3, "tickColor": "#000",
                    "values": [84125,84250,84375,84625,84750,84875,85125,85250,85375,85625,85750,85875,86125,86250,86375,86625,86750,86875,87125,87250,87375,87625,87750,87875,88125,88250,88375,88625]}},
                "y": {"datum": 3, "type": "quantitative", "scale": {"domain": [0.97, 10.87], "nice": false, "zero": false},
                  "axis": {"orient": "left", "title": null, "labels": false, "domain": false, "grid": false, "tickSize": 2.5, "tickColor": "#000",
                    "values": [1.2,1.4,1.6,1.8,2.2,2.4,2.6,2.8,3.2,3.4,3.6,3.8,4.2,4.4,4.6,4.8,5.2,5.4,5.6,5.8,6.2,6.4,6.6,6.8,7.2,7.4,7.6,7.8,8.2,8.4,8.6,8.8,9.2,9.4,9.6,9.8,10.2,10.4,10.6,10.8]}}
              }
            },
            {
              "data": {"name": "hrpdrefl"},
              "mark": {"type": "point", "opacity": 0},
              "encoding": {
                "y": {"datum": 3, "type": "quantitative", "scale": {"domain": [0.97, 10.87], "nice": false, "zero": false},
                  "axis": {"orient": "left", "title": "Counts", "domain": false, "grid": false, "tickSize": 5, "tickColor": "#000", "values": [2,4,6,8,10], "labelExpr": "format(datum.value, 'd')", "labelOverlap": false, "labelFlush": false, "labelFontSize": 10, "labelPadding": 2, "labelFont": "Liberation Sans", "labelColor": "#222", "titleFontSize": 16, "titlePadding": 4, "titleFont": "Liberation Sans", "titleFontWeight": "normal", "titleColor": "#111"}}
              }
            },
            {
              "layer": [
                {
                  "data": {"name": "hrpdrefl"},
                  "mark": {"type": "rule", "color": "#0000ff", "strokeWidth": 1},
                  "encoding": {"x": {"field": "x", "type": "quantitative", "scale": {"domain": [84052, 88676], "nice": false, "zero": false}, "axis": null}, "y": {"datum": 0.99, "type": "quantitative", "scale": {"domain": [0.97, 10.87], "nice": false, "zero": false}, "axis": null}, "y2": {"datum": 1.41}}
                },
                {
                  "data": {"values": [{"t": "(c)"}]},
                  "mark": {"type": "text", "font": "Liberation Sans", "fontSize": 31, "align": "left", "baseline": "alphabetic", "color": "#000"},
                  "encoding": {"x": {"datum": 84075, "axis": null}, "y": {"datum": 5.5, "axis": null}, "text": {"field": "t"}}
                },
                {
                  "data": {"values": [{"t": "Pmm"}]},
                  "mark": {"type": "text", "font": "Liberation Sans", "fontSize": 31, "fontStyle": "italic", "align": "left", "baseline": "alphabetic", "color": "#000"},
                  "encoding": {"x": {"datum": 84295, "axis": null}, "y": {"datum": 5.5, "axis": null}, "text": {"field": "t"}}
                },
                {
                  "data": {"values": [{"t": "2"}]},
                  "mark": {"type": "text", "font": "Liberation Sans", "fontSize": 31, "align": "left", "baseline": "alphabetic", "color": "#000"},
                  "encoding": {"x": {"datum": 84630, "axis": null}, "y": {"datum": 5.5, "axis": null}, "text": {"field": "t"}}
                },
                {
                  "data": {"values": [{"t": "HRPD"}]},
                  "mark": {"type": "text", "font": "Liberation Sans", "fontSize": 31, "align": "left", "baseline": "alphabetic", "color": "#000"},
                  "encoding": {"x": {"datum": 88088, "axis": null}, "y": {"datum": 5.71, "axis": null}, "text": {"field": "t"}}
                }
              ]
            }
          ]
        },
        {
          "width": 997, "height": 178,
          "resolve": {"scale": {"x": "independent", "y": "independent"}},
          "layer": [
            {
              "layer": [
                {
                  "data": {"name": "hrpd"},
                  "mark": {"type": "line", "color": "#0000ff", "strokeWidth": 1.2, "clip": true},
                  "encoding": {
                    "x": {"field": "x", "type": "quantitative", "title": "TOF microseconds", "scale": {"domain": [84052, 88676], "nice": false, "zero": false},
                      "axis": {"title": "TOF microseconds", "values": [84500,85000,85500,86000,86500,87000,87500,88000,88500], "labelExpr": "format(datum.value, ',')", "labelOverlap": false, "labelFlush": false, "labelFontSize": 12, "titleFontSize": 16, "tickSize": 5, "labelPadding": 2, "titlePadding": 2, "labelFont": "Liberation Sans", "titleFont": "Liberation Sans", "titleFontWeight": "normal", "labelColor": "#222", "titleColor": "#111", "domainColor": "#000", "tickColor": "#000", "grid": false}},
                    "y": {"field": "obs", "type": "quantitative", "title": "Counts", "scale": {"domain": [0.97, 10.87], "nice": false, "zero": false},
                      "axis": {"title": null, "values": [1,3,5,7,9], "labelExpr": "format(datum.value, 'd')", "labelOverlap": false, "labelFlush": false, "labelFontSize": 10, "tickSize": 5, "labelPadding": 2, "labelFont": "Liberation Sans", "labelColor": "#222", "domainColor": "#000", "tickColor": "#000", "grid": false}}
                  }
                },
                {
                  "data": {"name": "hrpd"},
                  "mark": {"type": "line", "color": "#ff0000", "strokeWidth": 1.2, "clip": true},
                  "encoding": {"x": {"field": "x", "type": "quantitative", "title": "TOF microseconds"}, "y": {"field": "pcc", "type": "quantitative"}}
                }
              ]
            },
            {
              "data": {"name": "hrpdrefl"},
              "mark": {"type": "point", "opacity": 0},
              "encoding": {
                "x": {"field": "x", "type": "quantitative", "scale": {"domain": [84052, 88676], "nice": false, "zero": false},
                  "axis": {"orient": "bottom", "title": null, "labels": false, "domain": false, "grid": false, "tickSize": 3, "tickColor": "#000",
                    "values": [84125,84250,84375,84625,84750,84875,85125,85250,85375,85625,85750,85875,86125,86250,86375,86625,86750,86875,87125,87250,87375,87625,87750,87875,88125,88250,88375,88625]}},
                "y": {"datum": 3, "type": "quantitative", "scale": {"domain": [0.97, 10.87], "nice": false, "zero": false},
                  "axis": {"orient": "left", "title": null, "labels": false, "domain": false, "grid": false, "tickSize": 2.5, "tickColor": "#000",
                    "values": [1.2,1.4,1.6,1.8,2.2,2.4,2.6,2.8,3.2,3.4,3.6,3.8,4.2,4.4,4.6,4.8,5.2,5.4,5.6,5.8,6.2,6.4,6.6,6.8,7.2,7.4,7.6,7.8,8.2,8.4,8.6,8.8,9.2,9.4,9.6,9.8,10.2,10.4,10.6,10.8]}}
              }
            },
            {
              "data": {"name": "hrpdrefl"},
              "mark": {"type": "point", "opacity": 0},
              "encoding": {
                "y": {"datum": 3, "type": "quantitative", "scale": {"domain": [0.97, 10.87], "nice": false, "zero": false},
                  "axis": {"orient": "left", "title": "Counts", "domain": false, "grid": false, "tickSize": 5, "tickColor": "#000", "values": [2,4,6,8,10], "labelExpr": "format(datum.value, 'd')", "labelOverlap": false, "labelFlush": false, "labelFontSize": 10, "labelPadding": 2, "labelFont": "Liberation Sans", "labelColor": "#222", "titleFontSize": 16, "titlePadding": 4, "titleFont": "Liberation Sans", "titleFontWeight": "normal", "titleColor": "#111"}}
              }
            },
            {
              "layer": [
                {
                  "data": {"name": "hrpdrefl"},
                  "mark": {"type": "rule", "color": "#0000ff", "strokeWidth": 1},
                  "encoding": {"x": {"field": "x", "type": "quantitative", "scale": {"domain": [84052, 88676], "nice": false, "zero": false}, "axis": null}, "y": {"datum": 0.99, "type": "quantitative", "scale": {"domain": [0.97, 10.87], "nice": false, "zero": false}, "axis": null}, "y2": {"datum": 1.41}}
                },
                {
                  "data": {"values": [{"t": "(d)"}]},
                  "mark": {"type": "text", "font": "Liberation Sans", "fontSize": 31, "align": "left", "baseline": "alphabetic", "color": "#000"},
                  "encoding": {"x": {"datum": 84075, "axis": null}, "y": {"datum": 5.45, "axis": null}, "text": {"field": "t"}}
                },
                {
                  "data": {"values": [{"t": "Pcc"}]},
                  "mark": {"type": "text", "font": "Liberation Sans", "fontSize": 31, "fontStyle": "italic", "align": "left", "baseline": "alphabetic", "color": "#000"},
                  "encoding": {"x": {"datum": 84300, "axis": null}, "y": {"datum": 5.45, "axis": null}, "text": {"field": "t"}}
                },
                {
                  "data": {"values": [{"t": "2"}]},
                  "mark": {"type": "text", "font": "Liberation Sans", "fontSize": 31, "align": "left", "baseline": "alphabetic", "color": "#000"},
                  "encoding": {"x": {"datum": 84540, "axis": null}, "y": {"datum": 5.45, "axis": null}, "text": {"field": "t"}}
                },
                {
                  "data": {"values": [{"t": "HRPD"}]},
                  "mark": {"type": "text", "font": "Liberation Sans", "fontSize": 31, "align": "left", "baseline": "alphabetic", "color": "#000"},
                  "encoding": {"x": {"datum": 88088, "axis": null}, "y": {"datum": 5.58, "axis": null}, "text": {"field": "t"}}
                }
              ]
            }
          ]
        }
      ]
    }
  ],
  "config": {
    "view": {"stroke": null}
  }
}
